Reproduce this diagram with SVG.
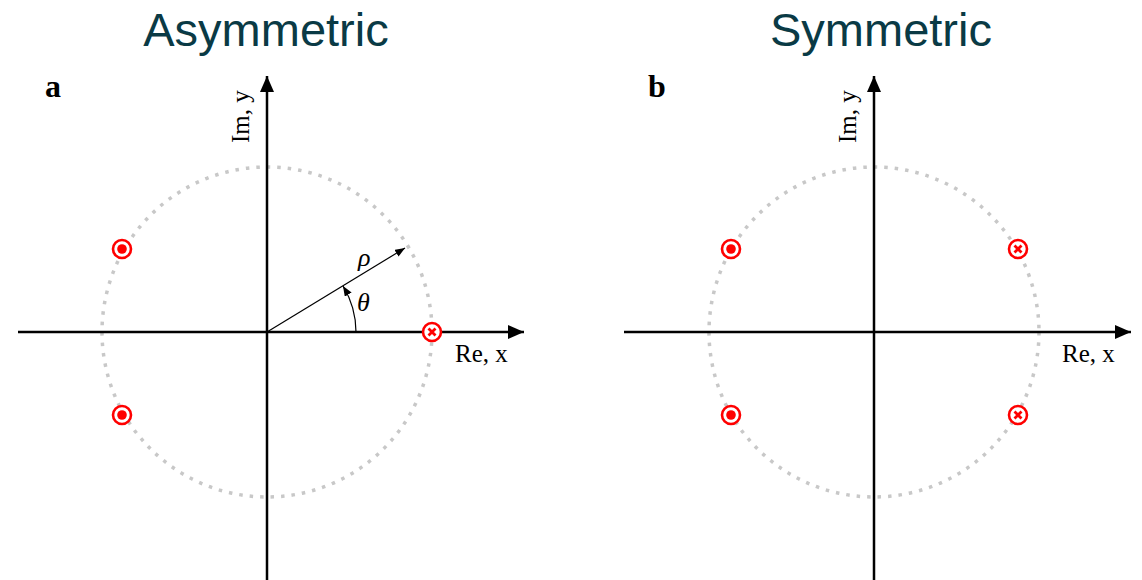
<svg xmlns="http://www.w3.org/2000/svg" width="1142" height="580" viewBox="0 0 1142 580">
<style>
.title{font-family:"Liberation Sans",Arial,sans-serif;font-size:47px;fill:#0a3a45;text-anchor:middle}
.lbl{font-family:"Liberation Serif","Times New Roman",serif;font-size:32px;font-weight:bold;fill:#000}
.ax{font-family:"Liberation Serif","Times New Roman",serif;font-size:25px;fill:#000}
.gk{font-family:"Liberation Serif","Times New Roman",serif;font-size:26px;font-style:italic;fill:#000}
.axis{stroke:#000;stroke-width:2.5;fill:none}
.ring{stroke:#c8c8c8;stroke-width:3.5;stroke-dasharray:3.5 7;fill:none}
.mk{stroke:#ff0000;stroke-width:2.6;fill:#fff}
.dot{fill:#ff0000}
.cross{stroke:#ff0000;stroke-width:2.8}
.thin{stroke:#000;stroke-width:1.2;fill:none}
</style>
<defs>
<marker id="ah" markerWidth="16" markerHeight="14" refX="16" refY="7" orient="auto" markerUnits="userSpaceOnUse">
<path d="M0,0 L16,7 L0,14 Z" fill="#000"/>
</marker>
<marker id="sh" markerWidth="10" markerHeight="8" refX="10" refY="4" orient="auto" markerUnits="userSpaceOnUse">
<path d="M0,0 L10,4 L0,8 Z" fill="#000"/>
</marker>
<g id="pole">
<circle r="9" class="mk"/>
<circle r="4.8" class="dot"/>
</g>
<g id="zero">
<circle r="9" class="mk"/>
<path d="M-3.5,-3.5 L3.5,3.5 M-3.5,3.5 L3.5,-3.5" class="cross"/>
</g>
</defs>
<rect width="1142" height="580" fill="#fff"/>

<text class="title" x="266" y="46">Asymmetric</text>
<text class="title" x="881" y="46">Symmetric</text>
<text class="lbl" x="45" y="97">a</text>
<text class="lbl" x="648" y="97">b</text>

<circle id="ringA" cx="267" cy="332" r="165" class="ring"/>
<circle id="ringB" cx="874" cy="332" r="165" class="ring"/>

<g id="connectors">
<line x1="18" y1="332" x2="524" y2="332" class="axis" marker-end="url(#ah)"/>
<line x1="267" y1="580" x2="267" y2="76" class="axis" marker-end="url(#ah)"/>
<line x1="624" y1="332" x2="1131" y2="332" class="axis" marker-end="url(#ah)"/>
<line x1="874" y1="580" x2="874" y2="76" class="axis" marker-end="url(#ah)"/>
<line x1="267" y1="332" x2="405" y2="248" class="thin" marker-end="url(#sh)"/>
<path d="M356,332 A89,89 0 0 0 343,286" class="thin" marker-end="url(#sh)"/>
</g>

<text class="ax" x="455" y="362">Re, x</text>
<text class="ax" x="1062" y="362">Re, x</text>
<text class="ax" transform="translate(249,143) rotate(-90)">Im, y</text>
<text class="ax" transform="translate(856,143) rotate(-90)">Im, y</text>
<text class="gk" x="358" y="266">ρ</text>
<text class="gk" x="357" y="311">θ</text>

<g id="poleA1"><use href="#pole" x="122" y="249"/></g>
<g id="poleA2"><use href="#pole" x="122" y="415"/></g>
<g id="zeroA1"><use href="#zero" x="432" y="332"/></g>
<g id="poleB1"><use href="#pole" x="731" y="249"/></g>
<g id="poleB2"><use href="#pole" x="731" y="415"/></g>
<g id="zeroB1"><use href="#zero" x="1018" y="249"/></g>
<g id="zeroB2"><use href="#zero" x="1018" y="415"/></g>
</svg>
